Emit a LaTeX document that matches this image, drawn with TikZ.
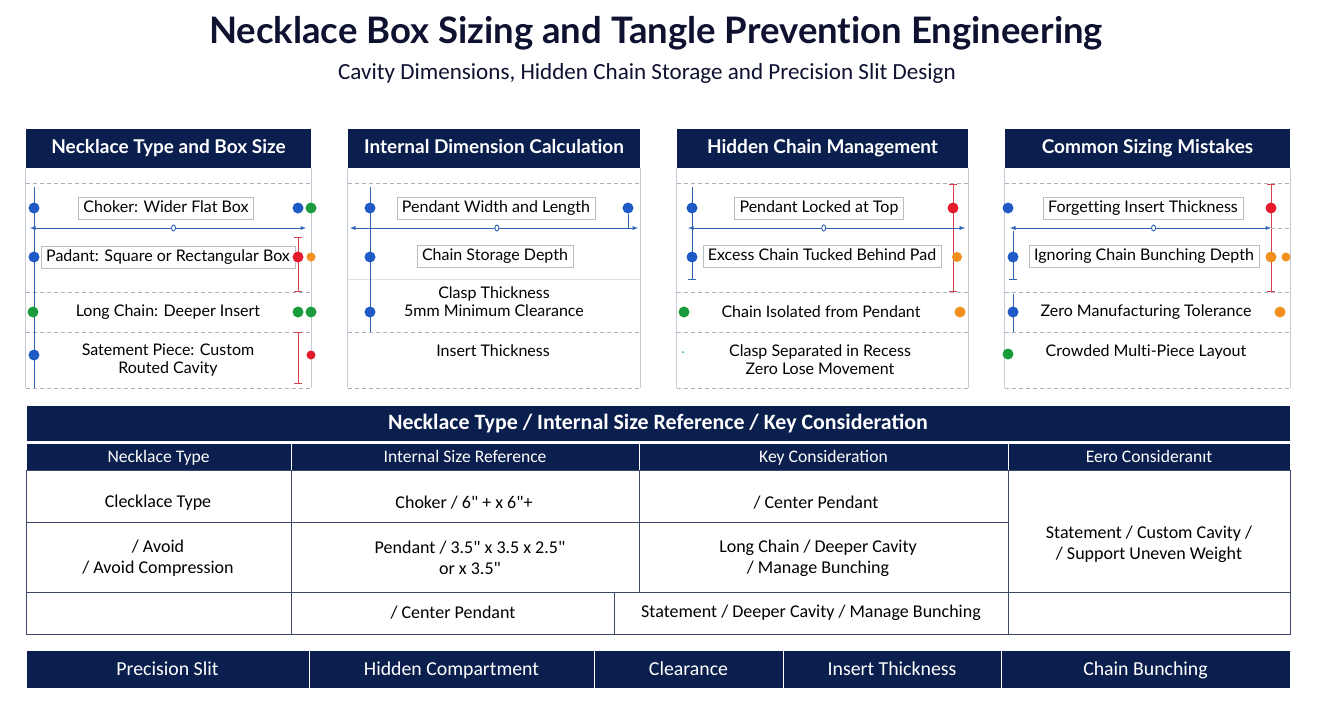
\documentclass[tikz,border=0pt]{standalone}
\usepackage{fontspec}
\setmainfont{Lato}[Ligatures=NoCommon]
\newfontfamily\narrowfont{Carlito}
\usepackage{tikz}
\usetikzlibrary{arrows,positioning,shapes.geometric}

\definecolor{navy}{HTML}{0B1F4E}
\definecolor{inkblack}{HTML}{0E1230}
\definecolor{dotblue}{HTML}{1E5BC6}
\definecolor{dotgreen}{HTML}{1B9A3E}
\definecolor{dotred}{HTML}{E31B2D}
\definecolor{dotorange}{HTML}{F1901C}
\definecolor{rulegray}{HTML}{A9B1BF}
\definecolor{framegray}{HTML}{C6CCD6}
\definecolor{boxgray}{HTML}{B9BEC6}
\definecolor{dimblue}{HTML}{2F63B5}
\definecolor{linered}{HTML}{D8424F}
\definecolor{cellline}{HTML}{3D4768}

\newcommand\qmark{\symbol{34}}

\tikzset{
  head/.style={fill=navy, text=white, minimum height=39pt, inner sep=0pt,
    text height=13pt, text depth=2.5pt,
    font=\fontsize{19}{21}\selectfont\bfseries},
  itembox/.style={draw=boxgray, fill=white, inner xsep=5pt, inner ysep=2pt,
    minimum height=22pt, text height=11.5pt, text depth=3.5pt,
    font=\fontsize{16}{18}\selectfont},
  item/.style={align=center, font=\fontsize{16}{18}\selectfont},
  dot/.style={circle, fill=#1, inner sep=0pt, minimum size=11pt},
  rowline/.style={draw=rulegray, dashed, dash pattern=on 4pt off 3pt},
  side/.style={draw=framegray, line width=0.8pt},
  dim/.style={<->, draw=dimblue, line width=0.9pt},
  zero/.style={ellipse, draw=dimblue, fill=white, inner sep=0pt,
    minimum width=4pt, minimum height=6pt},
  vblue/.style={draw=dimblue, line width=0.9pt},
  vred/.style={|-|, draw=linered, line width=0.8pt},
  tabhead/.style={fill=navy, draw=white, text=white, minimum height=27pt,
    inner sep=0pt, text height=12pt, text depth=1pt,
    font=\narrowfont\fontsize{17.6}{20}\selectfont},
  cell/.style={align=center, font=\narrowfont\fontsize{18}{21}\selectfont},
  bar/.style={fill=navy, draw=white, text=white, minimum height=38pt,
    inner sep=0pt, text height=13pt, text depth=0.5pt,
    font=\narrowfont\fontsize{19.8}{23}\selectfont},
}

\begin{document}
\begin{tikzpicture}[>=latex, x=1pt, y=-1pt]
	\useasboundingbox [fill=white] (0,0) rectangle (1320,705);
	%\draw [help lines] (0,0) grid (1320,705);

	% title
	\node [font=\fontsize{36.5}{40}\selectfont\bfseries, text=inkblack] (title) at (656,33) {Necklace Box Sizing and Tangle Prevention Engineering};
	\node [font=\narrowfont\fontsize{23.1}{26}\selectfont, text=inkblack] (subtitle) at (647,73) {Cavity Dimensions, Hidden Chain Storage and Precision Slit Design};

	% panel 1
	\node [head, minimum width=285pt] (h1) at (168.5,148.5) {Necklace Type and Box Size};
	\draw [side] (h1.south west) -- ++(0,220);
	\draw [side] (h1.south east) -- ++(0,220);
	\draw [rowline] (26,183) -- (311,183);
	\draw [rowline] (26,292) -- (311,292);
	\draw [rowline] (26,332) -- (311,332);
	\draw [rowline] (26,388) -- (311,388);
	\coordinate (l1t) at (34,187);
	\coordinate (l1b) at (34,388);
	\draw [vblue] (l1t) -- (l1b);
	\coordinate (r1a) at (298,237);
	\coordinate (r1b) at (298,292);
	\coordinate (r1c) at (298,332);
	\coordinate (r1d) at (298,384);
	\draw [vred] (r1a) -- (r1b);
	\draw [vred] (r1c) -- (r1d);
	\coordinate (d1l) at (30,228);
	\coordinate (d1r) at (306,228);
	\draw [dim] (d1l) -- (d1r) node [zero, pos=0.52] (z1) {};
	\node [itembox] (p1a) at (166,208) {Choker: Wider Flat Box};
	\node [itembox] (p1b) at (168,257) {Padant: Square or Rectangular Box};
	\node [item] (p1c) at (168,312) {Long Chain: Deeper Insert};
	\node [item] (p1d) at (168,360) {Satement Piece: Custom\\Routed Cavity};
	\node [dot=dotblue] (b1a) at (34,208) {};
	\node [dot=dotblue] (b1b) at (34,257) {};
	\node [dot=dotgreen] (b1c) at (33,312) {};
	\node [dot=dotblue] (b1d) at (34,355) {};
	\node [dot=dotblue] (c1a) at (298,208) {};
	\node [dot=dotgreen] (e1a) at (311,208) {};
	\node [dot=dotred] (c1b) at (298,257) {};
	\node [dot=dotorange, minimum size=9pt] (e1b) at (311,257) {};
	\node [dot=dotgreen] (c1c) at (298,312) {};
	\node [dot=dotgreen] (e1c) at (311,312) {};
	\node [dot=dotred, minimum size=9pt] (e1d) at (311,355) {};

	% panel 2
	\node [head, minimum width=292pt] (h2) at (494,148.5) {Internal Dimension Calculation};
	\draw [side] (h2.south west) -- ++(0,220);
	\draw [side] (h2.south east) -- ++(0,220);
	\draw [rowline] (348,183) -- (640,183);
	\draw [framegray!60] (348,279) -- (640,279);
	\draw [rowline] (348,332) -- (640,332);
	\draw [rowline] (348,388) -- (640,388);
	\coordinate (l2t) at (370,187);
	\coordinate (l2b) at (370,332);
	\draw [vblue] (l2t) -- (l2b);
	\coordinate (d2l) at (350,228);
	\coordinate (d2r) at (638,228);
	\draw [dim] (d2l) -- (d2r) node [zero, pos=0.51] (z2) {};
	\node [itembox] (p2a) at (496,208) {Pendant Width and Length};
	\node [itembox] (p2b) at (495,256) {Chain Storage Depth};
	\node [item] (p2c) at (494,302) {Clasp Thickness\\5mm Minimum Clearance};
	\node [item] (p2d) at (493,351) {Insert Thickness};
	\node [dot=dotblue] (b2a) at (370,208) {};
	\node [dot=dotblue] (b2b) at (370,257) {};
	\node [dot=dotblue] (b2c) at (370,312) {};
	\node [dot=dotblue] (c2a) at (628,208) {};
	\coordinate (c2t) at (628,228);
	\draw [vblue] (c2a) -- (c2t);

	% panel 3
	\node [head, minimum width=291pt] (h3) at (822.5,148.5) {Hidden Chain Management};
	\draw [side] (h3.south west) -- ++(0,220);
	\draw [side] (h3.south east) -- ++(0,220);
	\draw [rowline] (677,183) -- (968,183);
	\draw [rowline] (677,292) -- (968,292);
	\draw [rowline] (677,332) -- (968,332);
	\draw [rowline] (677,388) -- (968,388);
	\coordinate (l3t) at (692,187);
	\coordinate (l3b) at (692,280);
	\draw [vblue, -|] (l3t) -- (l3b);
	\coordinate (r3t) at (953,184);
	\coordinate (r3b) at (953,292);
	\draw [vred] (r3t) -- (r3b);
	\coordinate (d3l) at (688,228);
	\coordinate (d3r) at (965,228);
	\draw [dim] (d3l) -- (d3r) node [zero, pos=0.49] (z3) {};
	\node [itembox] (p3a) at (819,208) {Pendant Locked at Top};
	\node [itembox] (p3b) at (822,256) {Excess Chain Tucked Behind Pad};
	\node [item] (p3c) at (821,312) {Chain Isolated from Pendant};
	\node [item] (p3d) at (820,360) {Clasp Separated in Recess\\Zero Lose Movement};
	\node [dot=dotblue] (b3a) at (692,208) {};
	\node [dot=dotblue] (b3b) at (692,257) {};
	\node [dot=dotgreen] (b3c) at (684,312) {};
	\node [dot=dotgreen!70!cyan, minimum size=2pt] (b3d) at (683,352) {};
	\node [dot=dotred] (c3a) at (953,208) {};
	\node [dot=dotorange, minimum size=10pt] (c3b) at (957,257) {};
	\node [dot=dotorange] (c3c) at (960,312) {};

	% panel 4
	\node [head, minimum width=285pt] (h4) at (1147.5,148.5) {Common Sizing Mistakes};
	\draw [side] (h4.south west) -- ++(0,220);
	\draw [side] (h4.south east) -- ++(0,220);
	\draw [rowline] (1005,183) -- (1290,183);
	\draw [rowline] (1005,292) -- (1290,292);
	\draw [rowline] (1005,332) -- (1290,332);
	\draw [rowline] (1005,388) -- (1290,388);
	\coordinate (l4t) at (1013,231);
	\coordinate (l4b) at (1013,280);
	\draw [vblue, -|] (l4t) -- (l4b);
	\coordinate (l4c) at (1013,294);
	\coordinate (l4d) at (1013,332);
	\draw [vblue] (l4c) -- (l4d);
	\coordinate (r4t) at (1271,184);
	\coordinate (r4b) at (1271,292);
	\draw [vred] (r4t) -- (r4b);
	\coordinate (d4l) at (1010,228);
	\coordinate (d4r) at (1271,228);
	\draw [dim] (d4l) -- (d4r) node [zero, pos=0.55] (z4) {};
	\draw [rowline] (d4r) -- (1290,228);
	\node [itembox] (p4a) at (1143,208) {Forgetting Insert Thickness};
	\node [itembox] (p4b) at (1144,256) {Ignoring Chain Bunching Depth};
	\node [item] (p4c) at (1146,312) {Zero Manufacturing Tolerance};
	\node [item] (p4d) at (1146,352) {Crowded Multi-Piece Layout};
	\node [dot=dotblue] (b4a) at (1008,208) {};
	\node [dot=dotblue] (b4b) at (1013,257) {};
	\node [dot=dotblue] (b4c) at (1013,312) {};
	\node [dot=dotgreen] (b4d) at (1008,354) {};
	\node [dot=dotred] (c4a) at (1271,208) {};
	\node [dot=dotorange] (c4b) at (1271,257) {};
	\node [dot=dotorange, minimum size=9pt] (e4b) at (1286,257) {};
	\node [dot=dotorange] (c4c) at (1280,312) {};

	% reference table
	\node [tabhead, minimum width=1264pt, minimum height=36pt, text height=14pt, text depth=2.5pt, font=\narrowfont\fontsize{21.9}{25}\selectfont\bfseries] (tt) at (658,423.5) {Necklace Type / Internal Size Reference / Key Consideration};
	\node [tabhead, minimum width=265pt] (th1) at (158.5,456.5) {Necklace Type};
	\node [tabhead, minimum width=348pt] (th2) at (465,456.5) {Internal Size Reference};
	\node [tabhead, minimum width=369pt] (th3) at (823.5,456.5) {Key Consideration};
	\node [tabhead, minimum width=282pt] (th4) at (1149,456.5) {Eero Consideranıt};
	\draw [cellline, line width=0.9pt] (26,470) rectangle (1290,634);
	\draw [cellline, line width=0.9pt] (26,522) -- (1008,522);
	\draw [cellline, line width=0.9pt] (26,592) -- (1290,592);
	\draw [cellline, line width=0.9pt] (291,470) -- (291,634);
	\draw [cellline, line width=0.9pt] (639,470) -- (639,592);
	\draw [cellline, line width=0.9pt] (614,592) -- (614,634);
	\draw [cellline, line width=0.9pt] (1008,470) -- (1008,634);
	\node [cell] (c11) at (158,503) {Clecklace Type};
	\node [cell] (c12) at (464,503) {Choker / 6\qmark{} + x 6\qmark+};
	\node [cell] (c13) at (816,503) {/ Center Pendant};
	\node [cell] (c21) at (158,558) {/ Avoid\\/ Avoid Compression};
	\node [cell] (c22) at (470,558) {Pendant / 3.5\qmark{} x 3.5 x 2.5\qmark\\or x 3.5\qmark};
	\node [cell] (c23) at (818,558) {Long Chain / Deeper Cavity\\/ Manage Bunching};
	\node [cell] (c24) at (1149,544) {Statement / Custom Cavity /\\/ Support Uneven Weight};
	\node [cell] (c32) at (453,613) {/ Center Pendant};
	\node [cell] (c33) at (811,613) {Statement / Deeper Cavity / Manage Bunching};

	% bottom bar
	\node [bar, minimum width=283pt] (s1) at (167.5,669) {Precision Slit};
	\node [bar, minimum width=285pt] (s2) at (451.5,669) {Hidden Compartment};
	\node [bar, minimum width=189pt] (s3) at (688.5,669) {Clearance};
	\node [bar, minimum width=218pt] (s4) at (892,669) {Insert Thickness};
	\node [bar, minimum width=289pt] (s5) at (1145.5,669) {Chain Bunching};
\end{tikzpicture}
\end{document}
